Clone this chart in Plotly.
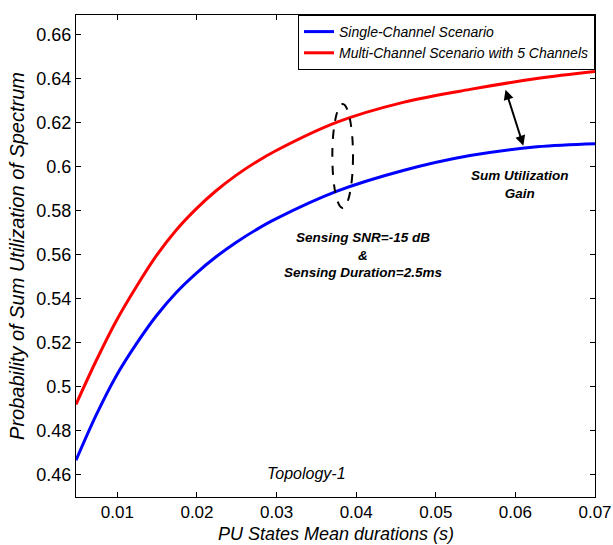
import plotly.graph_objects as go

# PU states mean duration (s)
x_vals = [0.0048, 0.0073, 0.0098, 0.0124, 0.0149, 0.0174, 0.0199, 0.0224, 0.0249,
          0.0274, 0.0299, 0.0376, 0.0459, 0.0543, 0.0627, 0.0700]
single_channel = [0.4665, 0.4868, 0.5045, 0.5195, 0.5322, 0.5428, 0.5515, 0.5590, 0.5655,
                  0.5712, 0.5762, 0.5888, 0.5982, 0.6050, 0.6090, 0.6104]
multi_channel = [0.4919, 0.5115, 0.5295, 0.5455, 0.5595, 0.5712, 0.5808, 0.5890, 0.5960,
                 0.6020, 0.6072, 0.6202, 0.6292, 0.6351, 0.6400, 0.6432]
x_ticks = [0.01, 0.02, 0.03, 0.04, 0.05, 0.06, 0.07]
x_tick_labels = ["0.01", "0.02", "0.03", "0.04", "0.05", "0.06", "0.07"]
y_ticks = [0.46, 0.48, 0.50, 0.52, 0.54, 0.56, 0.58, 0.60, 0.62, 0.64, 0.66]
y_tick_labels = ["0.46", "0.48", "0.5", "0.52", "0.54", "0.56", "0.58", "0.6", "0.62", "0.64", "0.66"]
series_names = ["Single-Channel Scenario", "Multi-Channel Scenario with 5 Channels"]

FONT = "Liberation Sans, Arial, sans-serif"
H, T, B = 545, 15, 48
plot_h = H - T - B

fig = go.Figure()
fig.add_trace(go.Scatter(x=x_vals, y=single_channel, mode="lines", name=series_names[0],
                         line=dict(color="#0000ff", width=3, shape="spline")))
fig.add_trace(go.Scatter(x=x_vals, y=multi_channel, mode="lines", name=series_names[1],
                         line=dict(color="#ff0000", width=3, shape="spline")))

# dashed ellipse
fig.add_shape(type="circle", xref="x", yref="y", x0=0.0370, x1=0.0396, y0=0.5812, y1=0.6284,
              line=dict(color="black", width=2, dash="dash"))

# double-headed arrow
fig.add_annotation(x=0.0610, y=0.6095, ax=0.0587, ay=0.6356, xref="x", yref="y",
                   axref="x", ayref="y", text="", showarrow=True, arrowhead=2,
                   startarrowhead=2, arrowside="end+start", arrowwidth=2, arrowsize=1,
                   startarrowsize=1, arrowcolor="black")

fig.add_annotation(x=0.0606, y=0.5919, xref="x", yref="y", showarrow=False,
                   text="<b><i>Sum Utilization<br>Gain</i></b>",
                   font=dict(family=FONT, size=13.5, color="black"), align="center")
fig.add_annotation(x=0.0409, y=0.5596, xref="x", yref="y", showarrow=False,
                   text="<b><i>Sensing SNR=-15 dB<br>&<br>Sensing Duration=2.5ms</i></b>",
                   font=dict(family=FONT, size=13.5, color="black"), align="center")
fig.add_annotation(x=0.0337, y=0.4606, xref="x", yref="y", showarrow=False,
                   text="<i>Topology-1</i>",
                   font=dict(family=FONT, size=16, color="black"))

# x-axis title, bottom edge at the page edge
fig.add_annotation(x=0.5, y=-B / plot_h, xref="paper", yref="paper", showarrow=False,
                   xanchor="center", yanchor="bottom", borderpad=0,
                   text="<i>PU States Mean durations (s)</i>",
                   font=dict(family=FONT, size=18, color="black"))

fig.update_layout(
    width=613, height=H,
    margin=dict(l=76, r=18, t=T, b=B),
    paper_bgcolor="white", plot_bgcolor="white",
    font=dict(family=FONT, color="black"),
    showlegend=True,
    legend=dict(x=1, y=1, xanchor="right", yanchor="top", bgcolor="white",
                bordercolor="black", borderwidth=1,
                font=dict(family=FONT, size=14, color="black", style="italic"),
                tracegroupgap=0, itemwidth=30),
    xaxis=dict(range=[0.0048, 0.07], tickvals=x_ticks, ticktext=x_tick_labels,
               ticks="inside", ticklen=5, tickcolor="black", showline=True,
               linecolor="black", linewidth=1, mirror="ticks", showgrid=False,
               zeroline=False, tickfont=dict(size=17, family=FONT), automargin=False),
    yaxis=dict(range=[0.4498, 0.6689], tickvals=y_ticks, ticktext=y_tick_labels,
               ticks="inside", ticklen=5, tickcolor="black", showline=True,
               linecolor="black", linewidth=1, mirror="ticks", showgrid=False,
               zeroline=False, tickfont=dict(size=18, family=FONT), automargin=False,
               title=dict(text="<i>Probability of Sum Utilization of Spectrum</i>", standoff=6,
                          font=dict(size=20, family=FONT))),
)

fig.write_html("out.html")
